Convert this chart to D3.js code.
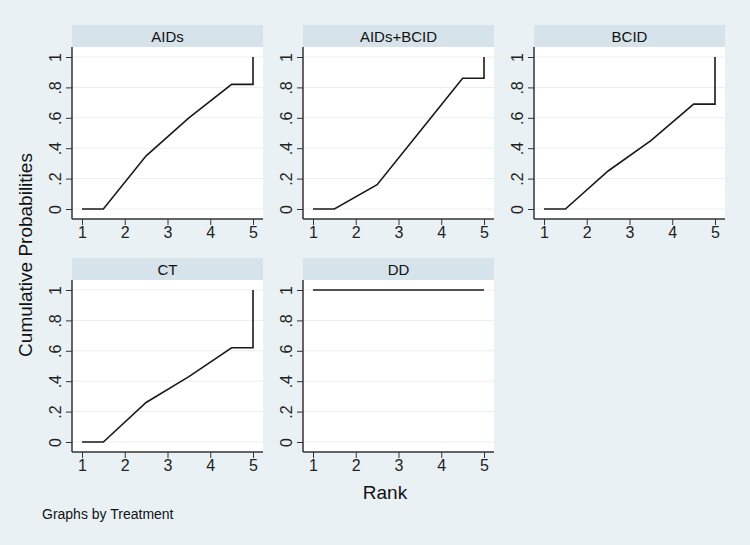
<!DOCTYPE html>
<html>
<head>
<meta charset="utf-8">
<script src="https://cdn.jsdelivr.net/npm/d3@7"></script>
<style>
  body { margin: 0; background: #e9f1f5; }
  svg { display: block; }
  svg text { font-family: "Liberation Sans", Arial, sans-serif; }
</style>
</head>
<body>
<svg width="750" height="545"></svg>
<script>
// rank positions used by the cumulative curve (midpoints, then the final jump at 5)
const rankPoints = [1, 1.5, 2.5, 3.5, 4.5, 5, 5];
const treatments = ["AIDs", "AIDs+BCID", "BCID", "CT", "DD"];
const aids = [0, 0, 0.35, 0.60, 0.82, 0.82, 1];
const aidsBcid = [0, 0, 0.16, 0.51, 0.86, 0.86, 1];
const bcid = [0, 0, 0.25, 0.45, 0.69, 0.69, 1];
const ct = [0, 0, 0.26, 0.43, 0.62, 0.62, 1];
const dd = [1, 1, 1, 1, 1, 1, 1];
const seriesList = [aids, aidsBcid, bcid, ct, dd];
const xTicks = [1, 2, 3, 4, 5];
const yTicks = [0, 0.2, 0.4, 0.6, 0.8, 1];
const yTickLabels = ["0", ".2", ".4", ".6", ".8", "1"];

const svg = d3.select("svg");

// panel grid
const panelW = 191, stripH = 22, plotH = 172;
const colX = [72, 303, 534];
const rowY = [25, 258];

const x = d3.scaleLinear().domain([1, 5]).range([10, panelW - 10]);
const y = d3.scaleLinear().domain([0, 1]).range([plotH - 10, 10]);

const line = d3.line()
    .x(d => x(d[0]))
    .y(d => y(d[1]));

treatments.forEach((name, i) => {
    const g = svg.append("g")
        .attr("transform", `translate(${colX[i % 3]},${rowY[Math.floor(i / 3)]})`);

    // strip header
    g.append("rect")
        .attr("width", panelW).attr("height", stripH)
        .attr("fill", "#d7e3ea");
    g.append("text")
        .attr("x", panelW / 2).attr("y", 17)
        .attr("text-anchor", "middle")
        .style("font-size", "15px")
        .attr("fill", "#111")
        .text(name);

    const p = g.append("g").attr("transform", `translate(0,${stripH})`);

    p.append("rect")
        .attr("width", panelW).attr("height", plotH)
        .attr("fill", "#fff");

    // gridlines
    p.selectAll(".grid")
        .data(yTicks)
        .join("line")
        .attr("x1", 0).attr("x2", panelW)
        .attr("y1", d => y(d)).attr("y2", d => y(d))
        .attr("stroke", "#eaeef0")
        .attr("stroke-width", 1);

    // y axis
    const yAxis = p.append("g")
        .call(d3.axisLeft(y).tickValues(yTicks).tickSize(6)
            .tickFormat((d, k) => yTickLabels[k]));
    yAxis.select(".domain").remove();
    yAxis.selectAll(".tick line").attr("stroke", "#333");
    yAxis.selectAll(".tick text")
        .attr("transform", "rotate(-90)")
        .attr("x", 0).attr("y", -11)
        .attr("dy", 0)
        .attr("text-anchor", "middle")
        .style("font-size", "16px")
        .attr("fill", "#222");

    // x axis
    const xAxis = p.append("g")
        .attr("transform", `translate(0,${plotH})`)
        .call(d3.axisBottom(x).tickValues(xTicks).tickSize(6).tickFormat(d3.format("d")));
    xAxis.select(".domain").remove();
    xAxis.selectAll(".tick line").attr("stroke", "#333");
    xAxis.selectAll(".tick text")
        .attr("y", 8)
        .style("font-size", "16px")
        .attr("fill", "#222");

    // axis lines
    p.append("line")
        .attr("x1", 0).attr("x2", 0).attr("y1", 0).attr("y2", plotH)
        .attr("stroke", "#333").attr("stroke-width", 1.5);
    p.append("line")
        .attr("x1", 0).attr("x2", panelW).attr("y1", plotH).attr("y2", plotH)
        .attr("stroke", "#333").attr("stroke-width", 1.5);

    // cumulative curve
    const pts = rankPoints.map((r, k) => [r, seriesList[i][k]]);
    p.append("path")
        .datum(pts)
        .attr("d", line)
        .attr("fill", "none")
        .attr("stroke", "#1a1a1a")
        .attr("stroke-width", 1.6);
});

// titles
svg.append("text")
    .attr("transform", "translate(32,255) rotate(-90)")
    .attr("text-anchor", "middle")
    .style("font-size", "19px")
    .attr("fill", "#111")
    .text("Cumulative Probabilities");

svg.append("text")
    .attr("x", 385).attr("y", 499)
    .attr("text-anchor", "middle")
    .style("font-size", "19px")
    .attr("fill", "#111")
    .text("Rank");

svg.append("text")
    .attr("x", 42).attr("y", 519)
    .style("font-size", "14px")
    .attr("fill", "#111")
    .text("Graphs by Treatment");
</script>
</body>
</html>
